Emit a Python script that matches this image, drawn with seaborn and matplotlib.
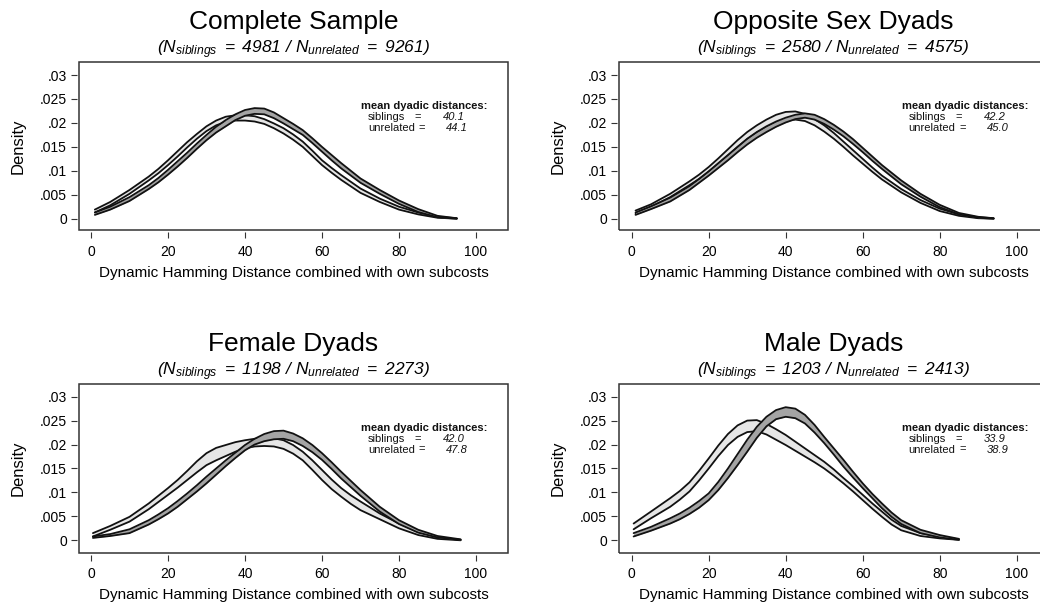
import numpy as np
import pandas as pd
import matplotlib
matplotlib.use("Agg")
import matplotlib.pyplot as plt
from matplotlib.patches import Rectangle
import seaborn as sns

# ---------------- data ----------------
titles = ["Complete Sample", "Opposite Sex Dyads", "Female Dyads", "Male Dyads"]
n_siblings = [4981, 2580, 1198, 1203]
n_unrelated = [9261, 4575, 2273, 2413]
mean_siblings = ["40.1", "42.2", "42.0", "33.9"]
mean_unrelated = ["44.1", "45.0", "47.8", "38.9"]

# Complete sample
x_complete = [1, 5, 10, 15, 17.5, 20, 22.5, 25, 27.5, 30, 32.5, 35, 37.5, 40, 42.5, 45, 47.5, 50,
              52.5, 55, 57.5, 60, 62.5, 65, 70, 75, 80, 85, 90, 95]
sib_hi_complete = [.0019, .0035, .0060, .0088, .0104, .0122, .0141, .0160, .0177, .0193, .0205, .0213,
                   .0216, .0216, .0214, .0208, .0199, .0189, .0176, .0161, .0142, .0122, .0106, .0091,
                   .0063, .0042, .0025, .0013, .0004, .0001]
sib_lo_complete = [.0013, .0028, .0052, .0080, .0095, .0112, .0130, .0149, .0167, .0183, .0195, .0202,
                   .0205, .0205, .0203, .0198, .0189, .0178, .0165, .0150, .0131, .0112, .0096, .0081,
                   .0054, .0035, .0019, .0009, .0002, .0000]
unr_hi_complete = [.0013, .0025, .0045, .0070, .0085, .0102, .0120, .0138, .0157, .0175, .0192, .0206,
                   .0218, .0227, .0231, .0230, .0222, .0210, .0198, .0185, .0168, .0150, .0133, .0116,
                   .0084, .0060, .0038, .0020, .0006, .0001]
unr_lo_complete = [.0008, .0019, .0037, .0062, .0076, .0092, .0109, .0127, .0146, .0164, .0180, .0193,
                   .0206, .0215, .0219, .0218, .0210, .0199, .0187, .0175, .0158, .0140, .0122, .0105,
                   .0075, .0052, .0031, .0014, .0003, .0000]

# Opposite sex dyads
x_opposite = [1, 5, 10, 15, 17.5, 20, 22.5, 25, 27.5, 30, 32.5, 35, 37.5, 40, 42.5, 45, 47.5, 50,
              52.5, 55, 57.5, 60, 62.5, 65, 70, 75, 80, 85, 90, 94]
sib_hi_opposite = [.0017, .0030, .0052, .0078, .0092, .0108, .0126, .0145, .0164, .0181, .0195, .0207,
                   .0217, .0223, .0224, .0219, .0208, .0195, .0179, .0161, .0143, .0125, .0107, .0090,
                   .0062, .0039, .0021, .0009, .0003, .0001]
sib_lo_opposite = [.0010, .0024, .0045, .0070, .0083, .0098, .0115, .0132, .0150, .0166, .0180, .0191,
                   .0200, .0205, .0207, .0204, .0195, .0182, .0167, .0150, .0132, .0115, .0098, .0082,
                   .0055, .0033, .0016, .0006, .0001, .0000]
unr_hi_opposite = [.0013, .0026, .0044, .0068, .0083, .0099, .0116, .0133, .0150, .0167, .0181, .0193,
                   .0203, .0211, .0217, .0220, .0217, .0208, .0196, .0182, .0166, .0148, .0130, .0112,
                   .0080, .0052, .0029, .0012, .0004, .0001]
unr_lo_opposite = [.0008, .0020, .0036, .0060, .0075, .0090, .0106, .0122, .0139, .0155, .0169, .0181,
                   .0192, .0201, .0208, .0211, .0207, .0198, .0186, .0172, .0156, .0139, .0121, .0104,
                   .0072, .0046, .0024, .0009, .0002, .0000]

# Female dyads
x_female = [0.5, 5, 10, 15, 17.5, 20, 22.5, 25, 27.5, 30, 32.5, 35, 37.5, 40, 42.5, 45, 47.5, 50,
            52.5, 55, 57.5, 60, 62.5, 65, 67.5, 70, 75, 80, 85, 90, 96]
sib_hi_female = [.0015, .0030, .0049, .0077, .0093, .0109, .0126, .0145, .0165, .0182, .0193, .0199,
                 .0205, .0209, .0212, .0213, .0213, .0209, .0199, .0185, .0167, .0147, .0127, .0109,
                 .0094, .0081, .0056, .0035, .0018, .0006, .0001]
sib_lo_female = [.0008, .0022, .0039, .0065, .0080, .0095, .0110, .0126, .0142, .0157, .0167, .0176,
                 .0185, .0192, .0196, .0197, .0196, .0191, .0181, .0167, .0147, .0126, .0107, .0091,
                 .0076, .0063, .0044, .0025, .0011, .0003, .0000]
unr_hi_female = [.0008, .0013, .0023, .0042, .0054, .0067, .0082, .0098, .0115, .0133, .0150, .0167,
                 .0183, .0199, .0212, .0222, .0228, .0229, .0223, .0213, .0199, .0182, .0163, .0143,
                 .0124, .0105, .0070, .0042, .0022, .0009, .0002]
unr_lo_female = [.0005, .0009, .0015, .0033, .0044, .0056, .0070, .0086, .0102, .0119, .0137, .0155,
                 .0172, .0188, .0200, .0207, .0211, .0212, .0207, .0197, .0184, .0168, .0149, .0129,
                 .0111, .0093, .0060, .0034, .0016, .0006, .0001]

# Male dyads
x_male = [0.5, 5, 10, 12.5, 15, 17.5, 20, 22.5, 25, 27.5, 30, 32.5, 35, 37.5, 40, 42.5, 45, 47.5,
          50, 52.5, 55, 57.5, 60, 62.5, 65, 67.5, 70, 75, 80, 85]
sib_hi_male = [.0035, .0060, .0088, .0103, .0121, .0145, .0171, .0198, .0222, .0240, .0250, .0251,
               .0243, .0232, .0220, .0206, .0192, .0178, .0164, .0148, .0130, .0113, .0095, .0077,
               .0060, .0043, .0030, .0015, .0008, .0002]
sib_lo_male = [.0023, .0046, .0070, .0085, .0102, .0125, .0150, .0176, .0199, .0216, .0226, .0228,
               .0221, .0210, .0199, .0187, .0175, .0163, .0150, .0135, .0119, .0102, .0084, .0066,
               .0049, .0033, .0021, .0009, .0004, .0001]
unr_hi_male = [.0015, .0028, .0046, .0056, .0068, .0082, .0098, .0122, .0150, .0180, .0210, .0237,
               .0258, .0272, .0278, .0275, .0262, .0241, .0216, .0192, .0168, .0143, .0119, .0097,
               .0077, .0058, .0042, .0022, .0011, .0003]
unr_lo_male = [.0008, .0020, .0035, .0044, .0055, .0068, .0084, .0105, .0130, .0157, .0185, .0214,
               .0238, .0253, .0258, .0255, .0244, .0225, .0203, .0179, .0154, .0131, .0109, .0088,
               .0067, .0049, .0034, .0015, .0006, .0001]

xticks = [0, 20, 40, 60, 80, 100]
yticks = [0, 0.005, 0.01, 0.015, 0.02, 0.025, 0.03]
ytick_labels = ["0", ".005", ".01", ".015", ".02", ".025", ".03"]
xlabel = "Dynamic Hamming Distance combined with own subcosts"
ylabel = "Density"

panels = [
    (x_complete, sib_hi_complete, sib_lo_complete, unr_hi_complete, unr_lo_complete),
    (x_opposite, sib_hi_opposite, sib_lo_opposite, unr_hi_opposite, unr_lo_opposite),
    (x_female, sib_hi_female, sib_lo_female, unr_hi_female, unr_lo_female),
    (x_male, sib_hi_male, sib_lo_male, unr_hi_male, unr_lo_male),
]

# ---------------- style ----------------
sns.set_style("white")
plt.rcParams["font.family"] = ["Liberation Sans", "DejaVu Sans"]
plt.rcParams["text.color"] = "black"
plt.rcParams["mathtext.fontset"] = "custom"
plt.rcParams["mathtext.rm"] = "Liberation Sans:italic"
plt.rcParams["mathtext.it"] = "Liberation Sans:italic"
plt.rcParams["mathtext.bf"] = "Liberation Sans:bold"

W, H = 1040, 604
fig = plt.figure(figsize=(W / 100, H / 100), dpi=100)
fig.patch.set_facecolor("white")

LIGHT = "#e6e6e6"
DARK = "#a4a4a4"
EDGE = "#111111"

# frame positions in pixels: (left, top, right, bottom)
frames = [(79, 62, 508, 230), (619, 62, 1048, 230),
          (79, 383.5, 508, 552.5), (619, 383.5, 1048, 552.5)]
zero_px = [(91, 218.7), (631.7, 218.7), (91, 540.3), (631.7, 540.3)]
PX_X = 3.85      # px per x unit
PX_Y = 4788.0    # px per density unit

for i, ((l, t, r, b), (x0, y0), data) in enumerate(zip(frames, zero_px, panels)):
    ax = fig.add_axes([l / W, 1 - b / H, (r - l) / W, (b - t) / H])
    ax.set_facecolor("white")
    ax.set_xlim((l - x0) / PX_X, (r - x0) / PX_X)
    ax.set_ylim((y0 - b) / PX_Y, (y0 - t) / PX_Y)

    xs, sh, sl, uh, ul = data
    df = pd.DataFrame({"x": xs, "sib_hi": sh, "sib_lo": sl, "unr_hi": uh, "unr_lo": ul})
    # siblings band (light) first, unrelated band (darker) on top
    ax.fill_between(df["x"], df["sib_lo"], df["sib_hi"], color=LIGHT, lw=0, zorder=2)
    for col in ["sib_hi", "sib_lo"]:
        sns.lineplot(data=df, x="x", y=col, ax=ax, color=EDGE, lw=1.3, zorder=3)
    ax.fill_between(df["x"], df["unr_lo"], df["unr_hi"], color=DARK, lw=0, zorder=4)
    for col in ["unr_hi", "unr_lo"]:
        sns.lineplot(data=df, x="x", y=col, ax=ax, color=EDGE, lw=1.3, zorder=5)

    ax.set_xlabel("")
    ax.set_ylabel("")
    for s in ax.spines.values():
        s.set_visible(False)
    ax.spines["left"].set_position(("outward", 1.3))
    ax.spines["bottom"].set_position(("outward", 1.6))
    ax.add_patch(Rectangle((0, 0), 1, 1, transform=ax.transAxes, fill=False,
                           lw=1.1, ec="#333333", clip_on=False, zorder=10))
    ax.set_xticks(xticks)
    ax.set_xticklabels([str(v) for v in xticks])
    ax.set_yticks(yticks)
    ax.set_yticklabels(ytick_labels)
    ax.tick_params(axis="both", direction="out", length=4, width=0.8, color="#333333",
                   labelsize=10, labelcolor="black", left=True, bottom=True)
    ax.tick_params(axis="x", pad=5)
    ax.tick_params(axis="y", pad=3.5)

    # annotation text
    ax.text(70.1, 0.02353, "mean dyadic distances:", fontsize=8, fontweight="bold",
            ha="left", va="center", color="#111111")
    ax.text(71.9, 0.02123, "siblings", fontsize=8, ha="left", va="center", color="#111111")
    ax.text(84.9, 0.02123, "=", fontsize=8, ha="center", va="center", color="#111111")
    ax.text(91.4, 0.02123, mean_siblings[i], fontsize=8, style="italic",
            ha="left", va="center", color="#111111")
    ax.text(71.9, 0.01894, "unrelated", fontsize=8, ha="left", va="center", color="#111111")
    ax.text(86.0, 0.01894, "=", fontsize=8, ha="center", va="center", color="#111111")
    ax.text(92.2, 0.01894, mean_unrelated[i], fontsize=8, style="italic",
            ha="left", va="center", color="#111111")

    cx = (l + r) / 2
    fig.text(cx / W, 1 - (t - 40) / H, titles[i], fontsize=19, ha="center", va="center",
             color="black")
    sub = (r"$(N_{siblings}\ =\ %d\ /\ N_{unrelated}\ =\ %d)$"
           % (n_siblings[i], n_unrelated[i]))
    fig.text(cx / W, 1 - (t - 12) / H, sub, fontsize=12.5, ha="center", va="center",
             color="black")
    fig.text((l - 61) / W, 1 - ((t + b) / 2) / H, ylabel, fontsize=12, rotation=90,
             ha="center", va="center", color="black")
    fig.text(cx / W, 1 - (b + 43) / H, xlabel, fontsize=11, ha="center", va="center",
             color="black")

fig.savefig("out.png", dpi=100, facecolor="white")
